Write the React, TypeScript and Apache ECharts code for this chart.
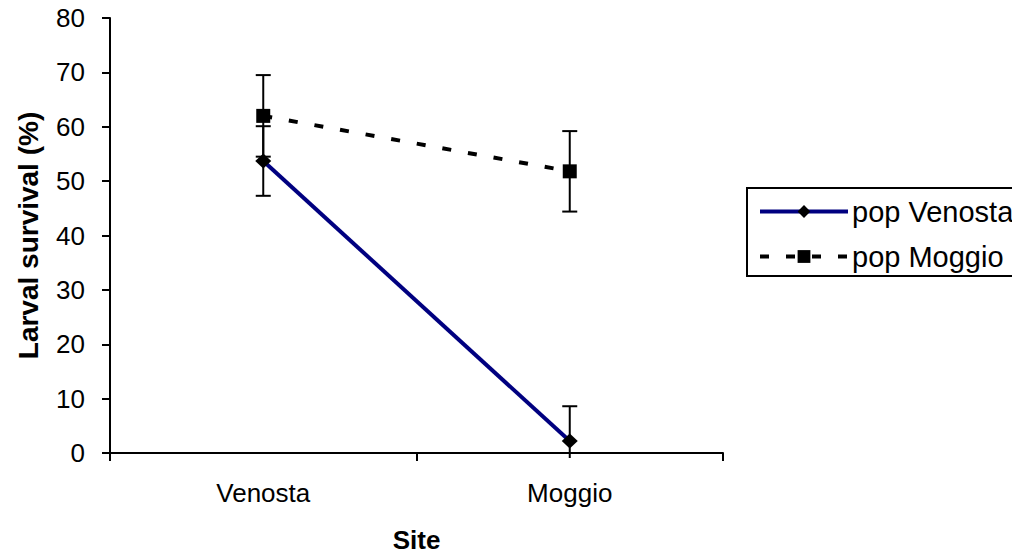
import React, { useEffect, useRef } from "react";
import * as echarts from "echarts";

const sites = ["Venosta", "Moggio"];
const venostaMean = [53.7, 2.2];
const venostaErr = [6.4, 6.4];
const moggioMean = [62.0, 51.8];
const moggioErr = [7.5, 7.4];
const yMin = 0;
const yMax = 80;
const yInterval = 10;

const FONT = "'Liberation Sans', Arial, sans-serif";

function errData(means: number[], errs: number[]) {
  return means.map((m, i) => [i, m - errs[i], m + errs[i]]);
}

function renderErr(params: any, api: any) {
  const x = api.value(0);
  const lo = api.value(1);
  const hi = api.value(2);
  const cs = params.coordSys;
  const bottomLimit = cs.y + cs.height + 5;
  const pHi = api.coord([x, hi]);
  const pLo = api.coord([x, lo]);
  const loY = Math.min(pLo[1], bottomLimit);
  const clippedLow = pLo[1] > bottomLimit;
  const half = 7.5;
  const style = { stroke: "#000", lineWidth: 2 };
  const children: any[] = [
    { type: "line", shape: { x1: pHi[0], y1: pHi[1], x2: pHi[0], y2: loY }, style },
    { type: "line", shape: { x1: pHi[0] - half, y1: pHi[1], x2: pHi[0] + half, y2: pHi[1] }, style },
  ];
  if (!clippedLow) {
    children.push({ type: "line", shape: { x1: pLo[0] - half, y1: pLo[1], x2: pLo[0] + half, y2: pLo[1] }, style });
  }
  return { type: "group", children };
}

export default function App() {
  const ref = useRef<HTMLDivElement>(null);
  useEffect(() => {
    document.body.style.margin = "0";
    const chart = echarts.init(ref.current!, null, { renderer: "svg" });
    chart.setOption({
      animation: false,
      backgroundColor: "#fff",
      textStyle: { fontFamily: FONT, color: "#000" },
      grid: { left: 110, right: 289, top: 18, bottom: 105, containLabel: false },
      xAxis: {
        type: "category",
        data: sites,
        boundaryGap: true,
        name: "Site",
        nameLocation: "middle",
        nameGap: 74,
        nameTextStyle: { fontFamily: FONT, fontSize: 26, fontWeight: "bold", color: "#000" },
        axisLine: { lineStyle: { color: "#000", width: 2 } },
        axisTick: { show: true, inside: false, length: 8, lineStyle: { color: "#000", width: 2 } },
        axisLabel: { margin: 27, fontFamily: FONT, fontSize: 26, color: "#000" },
        splitLine: { show: false },
      },
      yAxis: {
        type: "value",
        min: yMin,
        max: yMax,
        interval: yInterval,
        name: "Larval survival (%)",
        nameLocation: "middle",
        nameGap: 68,
        nameTextStyle: { fontFamily: FONT, fontSize: 28, fontWeight: "bold", color: "#000" },
        axisLine: { show: true, lineStyle: { color: "#000", width: 2 } },
        axisTick: { show: true, inside: false, length: 8, lineStyle: { color: "#000", width: 2 } },
        axisLabel: { margin: 25, fontFamily: FONT, fontSize: 26, color: "#000" },
        splitLine: { show: false },
      },
      legend: {
        orient: "vertical",
        left: 747,
        top: 188,
        padding: [9, 14, 5, 11],
        itemWidth: 88,
        itemHeight: 16,
        itemGap: 16,
        borderColor: "#000",
        borderWidth: 2,
        borderRadius: 0,
        backgroundColor: "#fff",
        lineStyle: { width: 4 },
        textStyle: { fontFamily: FONT, fontSize: 29, color: "#000", lineHeight: 26, padding: [0, 0, 0, -1] },
        data: ["pop Venosta", "pop Moggio"],
      },
      series: [
        {
          type: "custom",
          name: "errVenosta",
          renderItem: renderErr,
          data: errData(venostaMean, venostaErr),
          encode: { x: 0, y: [1, 2] },
          z: 1,
          silent: true,
        },
        {
          type: "custom",
          name: "errMoggio",
          renderItem: renderErr,
          data: errData(moggioMean, moggioErr),
          encode: { x: 0, y: [1, 2] },
          z: 1,
          silent: true,
        },
        {
          type: "line",
          name: "pop Moggio",
          data: moggioMean,
          symbol: "rect",
          symbolSize: 14,
          itemStyle: { color: "#000" },
          lineStyle: { color: "#000", width: 4, type: [9, 17] },
          z: 3,
        },
        {
          type: "line",
          name: "pop Venosta",
          data: venostaMean,
          symbol: "diamond",
          symbolSize: [16, 15],
          itemStyle: { color: "#000" },
          lineStyle: { color: "#000080", width: 4 },
          z: 4,
        },
      ],
    });
    return () => chart.dispose();
  }, []);
  return <div ref={ref} style={{ position: "absolute", left: 0, top: 0, width: 1012, height: 558 }} />;
}
